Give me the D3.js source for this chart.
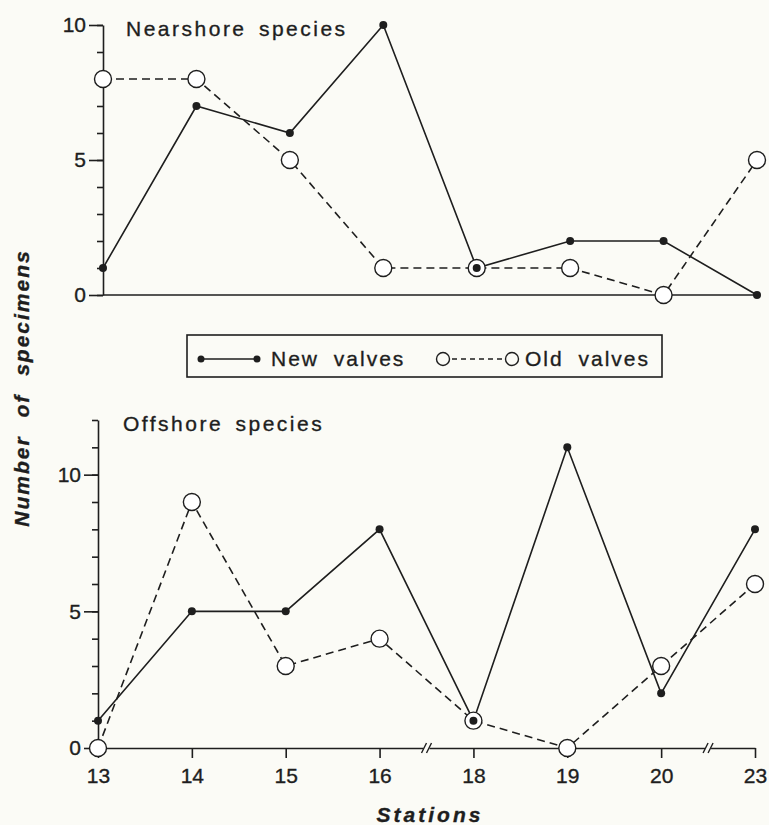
<!DOCTYPE html>
<html>
<head>
<meta charset="utf-8">
<script src="https://cdn.jsdelivr.net/npm/d3@7"></script>
<style>
  body { margin: 0; background: #fbfbf6; }
  svg { display: block; }
  text { font-family: "Liberation Sans", Arial, sans-serif; fill: #1e1e1e; stroke: #1e1e1e; stroke-width: 0.35px; }
</style>
</head>
<body>
<div id="chart"></div>
<script>
// Data
let stations = ["13", "14", "15", "16", "18", "19", "20", "23"];
let nearshoreNew = [1, 7, 6, 10, 1, 2, 2, 0];
let nearshoreOld = [8, 8, 5, 1, 1, 1, 0, 5];
let offshoreNew = [1, 5, 5, 8, 1, 11, 2, 8];
let offshoreOld = [0, 9, 3, 4, 1, 0, 3, 6];
let majorTicks = [0, 5, 10];

let width = 769;
let height = 825;
let ink = "#1e1e1e";
let bg = "#fbfbf6";

let svg = d3.select("#chart").append("svg")
    .attr("width", width)
    .attr("height", height);

svg.append("rect").attr("width", width).attr("height", height).attr("fill", bg);

function drawPanel(opts) {
    let g = svg.append("g");
    let x = d3.scalePoint().domain(stations).range(opts.xRange);
    let y = d3.scaleLinear().domain([0, opts.yMax]).range(opts.yRange);
    let x0 = opts.xRange[0];

    // minor ticks, every unit
    g.append("g")
        .attr("transform", `translate(${x0},0)`)
        .call(d3.axisLeft(y).tickValues(d3.range(0, opts.yMax + 1)).tickSize(6).tickSizeOuter(0).tickFormat(""));
    // major ticks with labels
    let major = g.append("g")
        .attr("transform", `translate(${x0},0)`)
        .call(d3.axisLeft(y).tickValues(majorTicks).tickSize(14).tickSizeOuter(0).tickPadding(3));
    major.select(".domain").remove();
    g.selectAll(".tick line, .domain").attr("stroke", ink).attr("stroke-width", 1.6);
    major.selectAll("text").style("font-size", "21px").attr("fill", ink);

    // x axis
    if (opts.xLabels) {
        let xa = g.append("g")
            .attr("transform", `translate(0,${y(0)})`)
            .call(d3.axisBottom(x).tickSize(10).tickSizeOuter(0).tickPadding(10));
        xa.selectAll("line, .domain").attr("stroke", ink).attr("stroke-width", 1.6);
        xa.selectAll("text").style("font-size", "21px").attr("fill", ink);
        // axis breaks between 16|18 and 20|23
        [["16", "18"], ["20", "23"]].forEach((p) => {
            let bx = (x(p[0]) + x(p[1])) / 2;
            xa.append("rect").attr("x", bx - 3).attr("y", -3).attr("width", 6).attr("height", 6).attr("fill", bg);
            [-2.5, 2.5].forEach((dx) => {
                xa.append("line")
                    .attr("x1", bx + dx - 2.5).attr("y1", 5)
                    .attr("x2", bx + dx + 2.5).attr("y2", -5)
                    .attr("stroke", ink).attr("stroke-width", 1.4);
            });
        });
    } else {
        g.append("line")
            .attr("x1", x0).attr("x2", opts.xRange[1])
            .attr("y1", y(0)).attr("y2", y(0))
            .attr("stroke", ink).attr("stroke-width", 1.6);
    }

    let line = d3.line().x((d, i) => x(stations[i])).y((d) => y(d));

    g.append("path").datum(opts.oldVals).attr("d", line)
        .attr("fill", "none").attr("stroke", ink).attr("stroke-width", 1.6)
        .attr("stroke-dasharray", "8,5");
    g.append("path").datum(opts.newVals).attr("d", line)
        .attr("fill", "none").attr("stroke", ink).attr("stroke-width", 1.6);

    g.selectAll(".old").data(opts.oldVals).join("circle")
        .attr("class", "old")
        .attr("cx", (d, i) => x(stations[i]))
        .attr("cy", (d) => y(d))
        .attr("r", 8.5)
        .attr("fill", "#ffffff").attr("stroke", ink).attr("stroke-width", 1.4);
    g.selectAll(".new").data(opts.newVals).join("circle")
        .attr("class", "new")
        .attr("cx", (d, i) => x(stations[i]))
        .attr("cy", (d) => y(d))
        .attr("r", 4)
        .attr("fill", ink);

    g.append("text")
        .attr("x", opts.titleX).attr("y", opts.titleY)
        .style("font-size", "21px")
        .style("letter-spacing", "2.5px")
        .style("word-spacing", "4px")
        .text(opts.title);
}

drawPanel({
    title: "Nearshore species", titleX: 126, titleY: 36,
    xRange: [103, 757], yRange: [295, 25], yMax: 10,
    newVals: nearshoreNew, oldVals: nearshoreOld, xLabels: false
});

drawPanel({
    title: "Offshore species", titleX: 123, titleY: 431,
    xRange: [98, 755], yRange: [748, 420], yMax: 12,
    newVals: offshoreNew, oldVals: offshoreOld, xLabels: true
});

// Legend
let lg = svg.append("g");
lg.append("rect").attr("x", 187).attr("y", 335).attr("width", 475).attr("height", 42)
    .attr("fill", "none").attr("stroke", ink).attr("stroke-width", 1.6);
let ly = 359;
lg.append("line").attr("x1", 201).attr("x2", 257).attr("y1", ly).attr("y2", ly)
    .attr("stroke", ink).attr("stroke-width", 1.6);
[201, 257].forEach((cx) => lg.append("circle").attr("cx", cx).attr("cy", ly).attr("r", 3.5).attr("fill", ink));
lg.append("text").attr("x", 271).attr("y", 366)
    .style("font-size", "21px").style("letter-spacing", "2px").style("word-spacing", "7px")
    .text("New valves");
lg.append("line").attr("x1", 443).attr("x2", 512).attr("y1", ly).attr("y2", ly)
    .attr("stroke", ink).attr("stroke-width", 1.4).attr("stroke-dasharray", "5,4");
[443, 512].forEach((cx) => lg.append("circle").attr("cx", cx).attr("cy", ly).attr("r", 6.5)
    .attr("fill", bg).attr("stroke", ink).attr("stroke-width", 1.4));
lg.append("text").attr("x", 525).attr("y", 366)
    .style("font-size", "21px").style("letter-spacing", "2px").style("word-spacing", "7px")
    .text("Old valves");

// Axis titles
svg.append("text")
    .attr("transform", "translate(29,388) rotate(-90)")
    .attr("text-anchor", "middle")
    .style("font-size", "21px").style("font-weight", "bold").style("font-style", "italic")
    .style("letter-spacing", "2px").style("word-spacing", "10px")
    .text("Number of specimens");

svg.append("text")
    .attr("x", 430).attr("y", 822)
    .attr("text-anchor", "middle")
    .style("font-size", "21px").style("font-weight", "bold").style("font-style", "italic")
    .style("letter-spacing", "3px")
    .text("Stations");
</script>
</body>
</html>
